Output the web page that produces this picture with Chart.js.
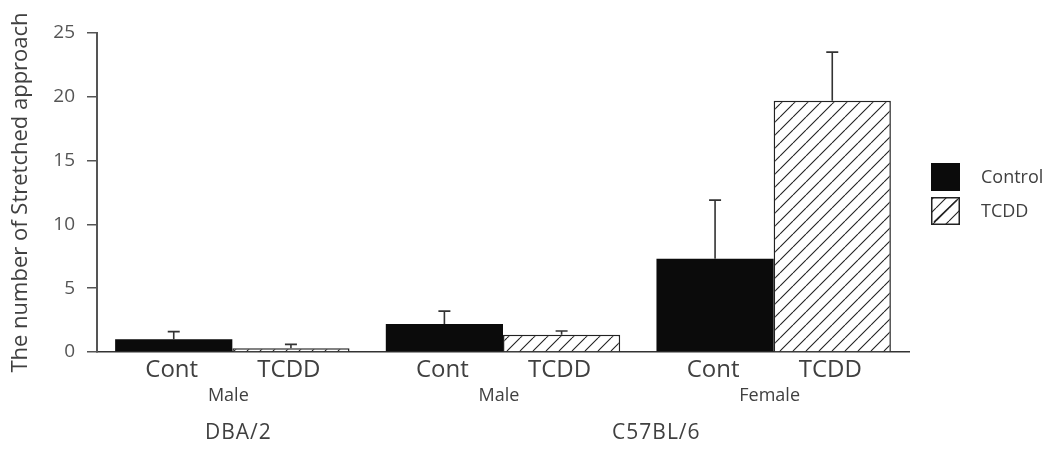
<!DOCTYPE html>
<html>
<head>
<meta charset="utf-8">
<script src="https://cdn.jsdelivr.net/npm/chart.js@4.4.1/dist/chart.umd.min.js"></script>
<style>
  html, body { margin: 0; padding: 0; background: #ffffff; }
  #wrap { width: 1059px; height: 451px; position: relative; }
</style>
</head>
<body>
<div id="wrap"><canvas id="c" width="1059" height="451"></canvas></div>
<script>
// ---- data ----
const groupLabels   = ['Male', 'Male', 'Female'];
const treatLabels   = ['Cont', 'TCDD'];
const seriesNames   = ['Control', 'TCDD'];
const controlMeans  = [1.0, 2.2, 7.3];
const controlErrors = [0.6, 1.0, 4.6];
const tcddMeans     = [0.3, 1.35, 19.7];
const tcddErrors    = [0.3, 0.3, 3.8];
const strainLabels  = ['DBA/2', 'C57BL/6'];
const strainSpans   = [[0, 0], [1, 2]];
const yTitle        = 'The number of Stretched approach';
const yTicks        = [0, 5, 10, 15, 20, 25];

const FONT = '"Open Sans", "Noto Sans", sans-serif';
const TEXT = '#404040';

function makeHatch() {
  const s = 13;
  const c = document.createElement('canvas');
  c.width = s; c.height = s;
  const g = c.getContext('2d');
  g.fillStyle = '#ffffff';
  g.fillRect(0, 0, s, s);
  g.strokeStyle = '#222222';
  g.lineWidth = 1.1;
  g.beginPath();
  for (const k of [-s, 0, s]) {
    g.moveTo(k, s);
    g.lineTo(k + s, 0);
  }
  g.stroke();
  return g.createPattern(c, 'repeat');
}
const hatch = makeHatch();

const errorSets = [controlErrors, tcddErrors];
const meanSets = [controlMeans, tcddMeans];

const errorBarPlugin = {
  id: 'errorBars',
  afterDatasetsDraw(chart) {
    const ctx = chart.ctx;
    const y = chart.scales.y;
    ctx.save();
    ctx.strokeStyle = '#333333';
    ctx.lineWidth = 1.6;
    chart.data.datasets.forEach((ds, di) => {
      const meta = chart.getDatasetMeta(di);
      meta.data.forEach((el, i) => {
        const top = y.getPixelForValue(meanSets[di][i] + errorSets[di][i]);
        ctx.beginPath();
        ctx.moveTo(el.x, el.y);
        ctx.lineTo(el.x, top);
        ctx.moveTo(el.x - 6, top);
        ctx.lineTo(el.x + 6, top);
        ctx.stroke();
      });
    });
    ctx.restore();
  }
};

const labelsPlugin = {
  id: 'extraLabels',
  afterDraw(chart) {
    const ctx = chart.ctx;
    const x = chart.scales.x;
    const area = chart.chartArea;
    ctx.save();
    ctx.fillStyle = TEXT;
    ctx.textAlign = 'center';
    ctx.textBaseline = 'middle';
    // treatment labels under each bar
    ctx.font = '24px ' + FONT;
    chart.data.datasets.forEach((ds, di) => {
      const meta = chart.getDatasetMeta(di);
      meta.data.forEach((el) => {
        ctx.fillText(treatLabels[di], el.x - 2, area.bottom + 18);
      });
    });
    // sex labels
    ctx.font = '18px ' + FONT;
    groupLabels.forEach((g, i) => {
      ctx.fillText(g, x.getPixelForValue(i) - 4, area.bottom + 44);
    });
    // strain labels
    ctx.font = '21px ' + FONT;
    ctx.letterSpacing = '1px';
    strainLabels.forEach((s, i) => {
      const a = x.getPixelForValue(strainSpans[i][0]);
      const b = x.getPixelForValue(strainSpans[i][1]);
      const off = strainSpans[i][0] === strainSpans[i][1] ? 6 : 18;
      ctx.fillText(s, (a + b) / 2 + off, area.bottom + 81);
    });
    ctx.letterSpacing = '0px';
    // legend
    const lx = area.right + 22;
    const ly = [163, 197];
    ctx.textAlign = 'left';
    ctx.font = '18px ' + FONT;
    chart.data.datasets.forEach((ds, di) => {
      ctx.fillStyle = ds.backgroundColor;
      ctx.fillRect(lx, ly[di], 29, 28);
      if (di === 1) {
        ctx.strokeStyle = '#222222';
        ctx.lineWidth = 1.5;
        ctx.strokeRect(lx + 0.75, ly[di] + 0.75, 27.5, 26.5);
        ctx.beginPath();
        ctx.moveTo(lx + 3, ly[di] + 25);
        ctx.lineTo(lx + 26, ly[di] + 3);
        ctx.stroke();
      }
      ctx.fillStyle = TEXT;
      ctx.fillText(seriesNames[di], lx + 50, ly[di] + 15);
    });
    ctx.restore();
  }
};

new Chart(document.getElementById('c'), {
  type: 'bar',
  data: {
    labels: groupLabels,
    datasets: [
      {
        label: seriesNames[0],
        data: controlMeans,
        backgroundColor: '#0b0b0b',
        borderColor: '#0b0b0b',
        borderWidth: 0
      },
      {
        label: seriesNames[1],
        data: tcddMeans,
        backgroundColor: hatch,
        borderColor: '#222222',
        borderWidth: 1.5
      }
    ]
  },
  options: {
    responsive: false,
    animation: false,
    events: [],
    layout: { padding: { top: 33, right: 150, bottom: 0, left: 0 } },
    plugins: { legend: { display: false }, tooltip: { enabled: false } },
    datasets: { bar: { categoryPercentage: 0.866, barPercentage: 1.0 } },
    scales: {
      x: {
        grid: { display: false },
        border: { display: true, color: '#333333', width: 1.6 },
        ticks: { display: false },
        afterFit(scale) { scale.height = 99; }
      },
      y: {
        min: 0,
        max: 25,
        afterBuildTicks(scale) { scale.ticks = yTicks.map(v => ({ value: v })); },
        ticks: { color: '#555555', font: { family: FONT, size: 19 }, padding: 12 },
        grid: { display: true, drawOnChartArea: false, drawTicks: true, tickLength: 10, color: '#555555', lineWidth: 1.5 },
        border: { display: true, color: '#555555', width: 2 },
        title: { display: true, text: yTitle, color: TEXT, font: { family: FONT, size: 22 }, padding: { top: 8, bottom: 0 } },
        afterFit(scale) { scale.width = 97; }
      }
    }
  },
  plugins: [errorBarPlugin, labelsPlugin]
});
</script>
</body>
</html>
